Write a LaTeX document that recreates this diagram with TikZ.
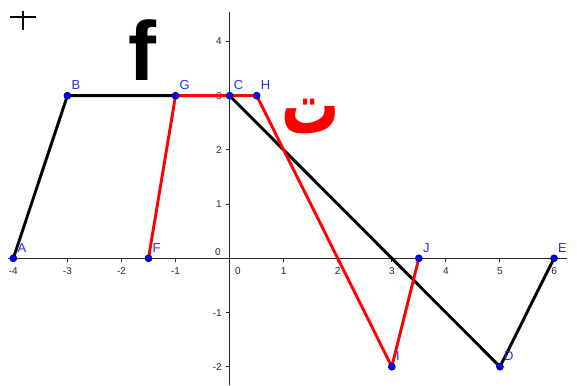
\documentclass[tikz,border=0pt]{standalone}
\usepackage{fontspec}
\usepackage{graphicx}
\setmainfont{Liberation Sans}
\newfontfamily\arabicfont[Script=Arabic]{DejaVu Sans}
\TeXXeTstate=1
\definecolor{ptblue}{RGB}{0,0,255}
\definecolor{ptedge}{RGB}{0,0,90}
\definecolor{lblblue}{RGB}{40,40,255}
\tikzset{
  axisline/.style={line width=1pt, black!85},
  ticklbl/.style={inner sep=0pt, font=\fontsize{10}{10}\selectfont, text=black!85},
  blkline/.style={line width=2.9pt, black, line join=round, line cap=round},
  redline/.style={line width=2.9pt, red, line join=round, line cap=round},
  ptnode/.style={circle, fill=ptblue, draw=ptedge, line width=0.6pt, minimum size=7pt, inner sep=0pt},
  ptlbl/.style={anchor=base west, inner sep=0pt, text=lblblue, font=\fontsize{13}{13}\selectfont, xshift=4pt, yshift=6pt}
}
\begin{document}
\begin{tikzpicture}[x=1pt,y=-1pt]
\useasboundingbox (0,0) rectangle (577,385);
% cross cursor
\draw[line width=1.6pt] (10,17.3) -- (36,17.3) (22.7,11) -- (22.7,30);
% big letters
\node[anchor=base, inner sep=0pt, font=\fontsize{84}{84}\selectfont\bfseries] (f) at (142,81) {f};
\node[anchor=base, inner sep=0pt, text=red, font=\arabicfont\bfseries\fontsize{58}{58}\selectfont] (teh) at (311,133) {\scalebox{1}[1.43]{\beginR ت\endR}};
\begin{scope}[shift={(229.6,258.3)}, x=54.07pt, y=54.2pt]
  % axes
  \draw[axisline] (-4.098,0) -- (6.24,0);
  \draw[axisline] (0,4.55) -- (0,-2.34);
  \foreach \i in {-4,-3,-2,-1,1,2,3,4,5,6} {
    \draw[axisline] (\i,0) -- ++(0,-4pt);
    \node[ticklbl, anchor=base, yshift=-15.7pt] (xl\i) at (\i,0) {\i};
  }
  \node[ticklbl, anchor=base, xshift=8.4pt, yshift=-15.7pt] (xl0) at (0,0) {0};
  \foreach \j in {-2,-1,1,2,3,4} {
    \draw[axisline] (0,\j) -- ++(-4pt,0);
    \node[ticklbl, anchor=base east, xshift=-7.6pt, yshift=-3.5pt] (yl\j) at (0,\j) {\j};
  }
  \node[ticklbl, anchor=base, xshift=-11.6pt, yshift=2.8pt] (yl0) at (0,0) {0};
  % points
  \coordinate (A) at (-4,0);
  \coordinate (B) at (-3,3);
  \coordinate (C) at (0,3);
  \coordinate (D) at (5,-2);
  \coordinate (E) at (6,0);
  \coordinate (F) at (-1.5,0);
  \coordinate (G) at (-1,3);
  \coordinate (H) at (0.5,3);
  \coordinate (I) at (3,-2);
  \coordinate (J) at (3.5,0);
  \draw[blkline] (A) -- (B) -- (C) -- (D) -- (E);
  \draw[redline] (F) -- (G) -- (H) -- (I) -- (J);
  \foreach \p in {A,B,C,D,E,F,G,H,I,J} {
    \node[ptnode] (pt\p) at (\p) {};
    \node[ptlbl] (lb\p) at (\p) {\p};
  }
\end{scope}
\end{tikzpicture}
\end{document}
